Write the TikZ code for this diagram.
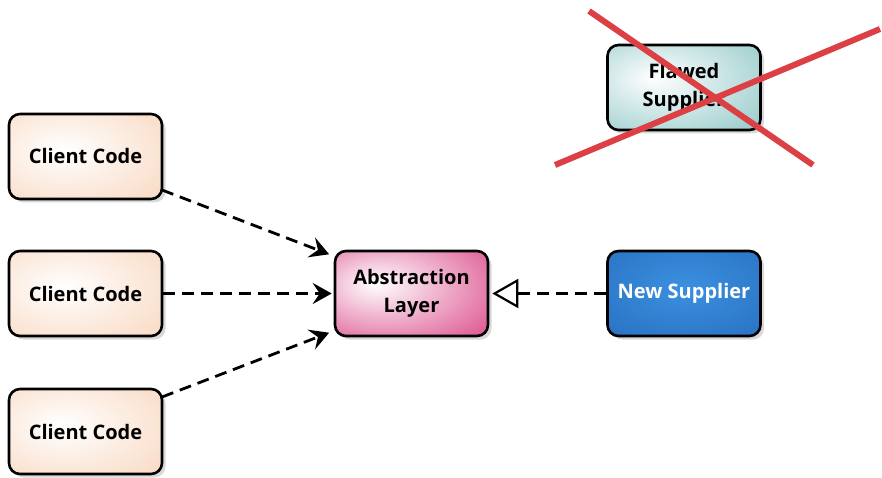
\documentclass[tikz,border=0pt]{standalone}
\usepackage{fontspec}
\setmainfont{Open Sans}
\usetikzlibrary{shadows,arrows.meta}
\definecolor{peach}{HTML}{F8D6BD}
\definecolor{pinkc}{HTML}{DE5A94}
\definecolor{tealc}{HTML}{8EC6C6}
\definecolor{bluec}{HTML}{2468B8}
\definecolor{bluein}{HTML}{3B90E0}
\definecolor{crossred}{HTML}{DC3F44}
\pgfdeclareradialshading{clientshade}{\pgfpoint{-8bp}{4bp}}{color(0bp)=(white); color(44bp)=(peach); color(80bp)=(peach)}
\pgfdeclareradialshading{abstshade}{\pgfpoint{-12bp}{6bp}}{color(0bp)=(white); color(40bp)=(pinkc); color(80bp)=(pinkc)}
\pgfdeclareradialshading{flawedshade}{\pgfpoint{-10bp}{6bp}}{color(0bp)=(white); color(44bp)=(tealc); color(80bp)=(tealc)}
\pgfdeclareradialshading{blueshade}{\pgfpoint{0bp}{4bp}}{color(0bp)=(bluein); color(50bp)=(bluec); color(80bp)=(bluec)}
\tikzset{
  box/.style={draw=black, line width=2.6pt, rounded corners=11pt,
    minimum width=153pt, minimum height=85pt, inner sep=0pt, align=center,
    font=\fontsize{20}{28}\selectfont\bfseries,
    drop shadow={shadow xshift=3.5pt, shadow yshift=-3.5pt, opacity=0.3}},
  client/.style={box, shading=clientshade},
  abst/.style={box, shading=abstshade},
  flawed/.style={box, shading=flawedshade},
  newsup/.style={box, shading=blueshade, text=white},
  dep/.style={line width=2.8pt, dash pattern=on 12pt off 7pt, -{Stealth[length=19pt,width=21pt,inset=7pt,sep=2pt]}},
  impl/.style={line width=2.8pt, dash pattern=on 12pt off 7pt, -{Triangle[open,length=26pt,width=29pt,line width=2.2pt,sep=3pt]}},
  cross/.style={draw=crossred, line width=6pt}
}
\begin{document}
\begin{tikzpicture}[x=1pt,y=-1pt]
\useasboundingbox (0,0) rectangle (882,478);
\node[client] (c1) at (85.5,156.5) {Client Code};
\node[client] (c2) at (85.5,293.5) {Client Code};
\node[client] (c3) at (85.5,431.5) {Client Code};
\node[abst] (al) at (411.5,293.5) {Abstraction\\Layer};
\node[newsup] (ns) at (684,293.5) {New Supplier};
\node[flawed] (fs) at (684,87.5) {Flawed\\Supplier};
\coordinate (s1) at (162,190);
\coordinate (t1) at (331,255);
\coordinate (s3) at (162,397);
\coordinate (t3) at (331,332);
\coordinate (x1a) at (589,11);
\coordinate (x1b) at (813,165);
\coordinate (x2a) at (555,165);
\coordinate (x2b) at (880,29);
\draw[dep] (s1) -- (t1);
\draw[dep] (c2.east) -- (al.west);
\draw[dep] (s3) -- (t3);
\draw[impl] (ns.west) -- (al.east);
\draw[cross] (x1a) -- (x1b);
\draw[cross] (x2a) -- (x2b);
\end{tikzpicture}
\end{document}
